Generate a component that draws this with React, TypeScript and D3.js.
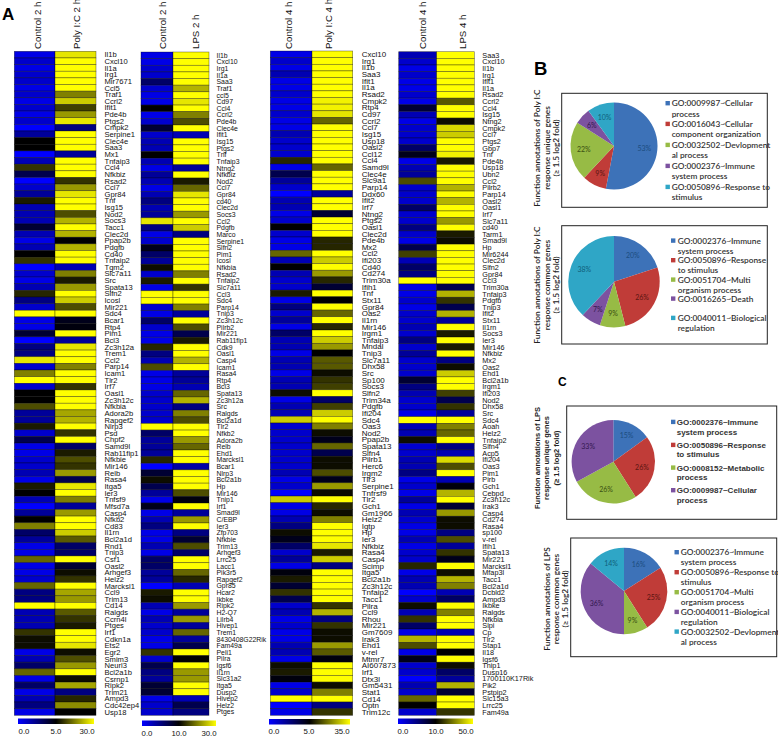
import React from "react";
import * as d3 from "d3";

const genes1 = ["Il1b","Cxcl10","Il1a","Irg1","Mir7671","Ccl5","Traf1","Ccrl2","Ifit1","Pde4b","Ptgs2","Cmpk2","Serpine1","Clec4e","Saa3","Mx1","Tnfaip3","Ccl4","Nfkbiz","Rsad2","Ccl7","Gpr84","Tnf","Isg15","Nod2","Socs3","Tacc1","Clec2d","Ppap2b","Pdgfb","Cd40","Tnfaip2","Tgm2","Slc7a11","Src","Spata13","Slfn2","Icosl","Mir221","Sdc4","Bcar1","Rtp4","Pim1","Bcl3","Zc3h12a","Trem1","Ccl2","Parp14","Icam1","Tlr2","Irf7","Oasl1","Zc3h12c","Nfkbia","Adora2b","Rapgef2","Nlrp3","Psd","Chpf2","Samd9l","Rab11fip1","Nfkbie","Mir146","Relb","Rasa4","Itga5","Ier3","Tnfsf9","Mfsd7a","Casp4","Nfkb2","Cd83","Il1rn","Bcl2a1d","Rnd1","Tnip3","Csf1","Oasl2","Arhgef3","Helz2","Marcksl1","Ccl9","Trim13","Cd14","Ralgds","Ccrn4l","Ptges","Irf1","Cdkn1a","Ets2","Egr2","Smim3","Neurl3","Bcl2a1b","Csrnp1","Ripk2","Trim21","Ampd3","Cdc42ep4","Usp18"];
const control1 = [-9,-8,-9,-8,-8,-9,-8,-9,-8,-9,-8,-10,-6,0,0,-10,-7,2,-3,-10,-8,-6,1,-7,-7,-7,-2,-7,-9,-7,0,2,-10,-8,-9,-7,1.5,-5,-8,10,-9,-9,-2,-10,-5,-5,9,-8,5,10,-8,0,0,3,-6,-6,1,-8,-3,-9,-9,-8,-8,-7,-9,1,0,-7,-10,-6,0,5,-4,-6,-9,-9,4,-9,-9,-8,4,-5,-5,10,-7,-7,-7,2,0.5,0.5,-9,-7,-4,4,-9,-4,-9,-7,-5,-9];
const treated1 = [9,10,10,10,10,10,5,8,2.5,6,9,-5,10,10,10,-6,10,10,10,2,6,9,10,10,3,7,10,7,0,7,10,10,-7,5,1,6,10,8,3,10,-1,-0.5,10,-6,9,10,10,5,10,10,2,10,10,10,6.5,7,10,2,10,-4,1,3,2,6,-3,9,10,5,-6,6,10,10,8,3.5,-4,-4,10,-2,0.5,2,10,6.5,6,10,3.5,2,1,10,10,9,0.5,3,6,10,0.5,6.5,-5,1.5,5.5,0];

const genes2 = ["Il1b","Cxcl10","Irg1","Il1a","Saa3","Traf1","ccl5","Cd97","Ccl4","Ccrl2","Pde4b","Clec4e","Ifit1","Isg15","Ptgs2","Tnf","Tnfaip3","Ntng2","Nfkbiz","Nod2","Ccl7","Gpr84","cd40","Clec2d","Socs3","Ccl2","Pdgfb","Marco","Serpine1","Slfn2","Pim1","Icosl","Nfkbia","Rsad2","Tnfaip2","Slc7a11","Ccl3","Sdc4","Parp14","Tnip3","Zc3h12c","Pilrb2","Mir221","Rab11fip1","Cdk9","Oasl1","Casp4","Icam1","Rasa4","Rtp4","Bcl3","Spata13","Zc3h12a","Src","Ralgds","Bcl2a1d","Tlr2","Nfkb2","Adora2b","Relb","Ehd1","Marcksl1","Bcar1","Nlrp3","Bcl2a1b","Hp","Mir146","Tnip1","Irf1","Smad9l","C/EBP","Ier3","Zfp703","Nfkbie","Trim13","Arhgef3","Lrrc25","Lacc1","Pik3r5","Rapgef2","Gpr85","Hcar2","Ikbke","Ripk2","H2-Q7","Lilrb4","Hivep1","Trem1","8430408G22Rik","Fam49a","Peli1","Pilra","Igsf6","Il1rn","Slc31a2","Itga5","Dusp2","Hivep2","Helz2","Ptges"];
const control2 = [-9,-9,-8,-8,-4,-8,-9,-9,0,-9,-8,-2,-8,-7,-7,0,-7,-9,-6,-7,-9,-7,-5,-7,-6,9,-5,-9,-8,-1,-4,-6,0.5,-8,1,-9,10,10,-8,-9,-4,-8,-9,-9,1.5,-5,-7,3,-9,-9,-9,-8,-8,-8,-8,-8,10,-4,-6,-6,-6,1.5,-10,-2,0.5,-3,-6,-9,-1,-9,-7,-5,-9,-9,-7,-9,-4,-4,-6,-6,-10,1,0.5,-7,-9,-7,-8,-8,-9,-9,2,-8,-3,-5,-6,-2,-2,-9,-8,-8];
const treated2 = [10,10,10,10,10,7,10,9,10,5,3,10,-7,10,10,10,10,-6,10,1,4,9,10,10,6,10,8,-5,10,10,10,10,10,5,10,2,10,10,5,-6,10,3,-3,1,10,10,7,10,-6,-6,-7,4,7,-5,5,3,10,10,6,4,10,10,-6.5,10,10,10,3,-0.5,10,-6,6,10,-5,-2,3,-4,10,10,4,1.5,-7,10,10,6,-6,6,-6,4,-6,-3,10,0,10,6,6,10,10,-7,-3,-5];

const genes3 = ["Cxcl10","Irg1","Il1b","Saa3","Ifit1","Il1a","Rsad2","Cmpk2","Rtp4","Cd97","Ccrl2","Ccl7","Isg15","Usp18","Oasl2","Ccl12","Ccl4","Samd9l","Clec4e","Slc9a1","Parp14","Ddx60","Ifit2","Irf7","Ntng2","Ptgs2","Oasl1","Clec2d","Pde4b","Mx2","Ccl2","Ifi203","Cd40","Cd274","Trim30a","Ifih1","Tnf","Stx11","Gpr84","Oas2","Il1rn","Mir146","Irgm1","Tnfaip3","Mndal","Tnip3","Slc7a11","Dhx58","Src","Sp100","Socs3","Slfn2","Trim34a","Pdgfb","Ifi204","Sdc4","Oas3","Nod2","Ppap2b","Spata13","Slfn4","Pilrb1","Herc6","Irgm2","Tlr3","Serpine1","Tnfrsf9","Tlr2","Gch1","Gm1966","Helz2","Igtp","Hp","Ier3","Nfkbiz","Rasa4","Casp4","Scimp","Itga5","Bcl2a1b","Zc3h12c","Tnfaip2","Tacc1","Pilra","Ccl9","Rhou","Mir221","Gm7609","Irak3","Ehd1","v-rel","Mtmr7","AI607873","Irf1","Dtx3l","Gm5431","Stat1","Cd14","Optn","Trim12c"];
const control3 = [-9,-8,-9,-7,-9,-9,-8,-9,-9,-8,-9,-9,-7,-8,-8,-8,1.5,-9,-3,-6,-8,-10,-7,-7,-9,-8,0,-8,-9,-9,4,-7,0,-7,-8,-8,1,-9,-5,-8,-6,-9,-4,-7,-7,-9,-7,-7,-9,-7,-7,0.5,-9,-7,-7,8,-8,-8,-8,-8,-8,-8,-8,-7,-9,-8,-10,8,-9,-9,-7,-5,0.5,-1,-4,-8,-6,-9,-0.5,1,-2,2,-3,-8,-7,-9,-8,-9,-9,-7,-7,-9,0.5,1,-0.5,-9,-8,10,-10,-9];
const treated3 = [10,10,10,10,10,10,10,9.5,9.5,9,4,10,10,10,10,10,10,4,10,10,10,-6,10,10,-2,10,10,10,1.5,1.5,10,8,10,6,1.5,-2,10,0,10,4,10,1.5,10,8,6,0,3.5,3.5,0.5,2,2.5,10,-4,2.5,8,10,5,0.5,-1,4,-3,0.5,0.5,3,-1,6,0.5,10,1.5,0.5,5,10,10,10,9,1,8,-5,10,10,10,10,10,2,7,-5,2,0.5,0.5,6,3.5,-0.5,10,10,10,0.5,5,10,-5,2];

const genes4 = ["Saa3","Cxcl10","Il1b","Irg1","Ifit1","Il1a","Rsad2","Ccrl2","Ccl4","Isg15","Ntng2","Cmpk2","Ccl7","Ptgs2","Gbp7","Tnf","Pde4b","Usp18","Ubn2","Ccl2","Pilrb2","Parp14","Oasl2","Oasl1","Irf7","Slc7a11","cd40","Tarm1","Smad9l","Hp","Mir6244","Clec2d","Slfn2","Gpr84","Ccl3","Trim30a","Tnfaip3","Pdgfb","Tnip3","Ifit2","Stx11","Il1rn","Socs3","Ier3","Mir146","Nfkbiz","Mx2","Oas2","Ehd1","Bcl2a1b","Irgm1","Ifi203","Nod2","Dhx58","Src","Sdc4","Aoah","Helz2","Tnfaip2","Slfn4","Acp5","Ifi204","Oas3","Pim1","Pirb","Gch1","Cebpd","Zc3h12c","Irak3","Casp4","Cd274","Rasa4","sp100","v-rel","Ifih1","Spata13","Mir221","Marcksl1","Mfap3l","Tacc1","Bcl2a1d","Dcbld2","Ampd3","Ikbke","Ralgds","Nfkbia","Slpi","Cp","Tlr2","Stap1","Il18","Igsf6","Tnip1","Dusp16","1700110K17Rik","Pik2","Pstpip2","Slc15a3","Lrrc25","Fam49a"];
const control4 = [-7,-8,-9,-8,-9,-9,-8,-9,-2,-7,-9,-8,-8,-8,-4,-1,-9,-7,-6,3,-8,-8,-8,-4,-8,-8,-5,-8,-9,-3,2.5,-7,-4,-5,10,-9,-9,-8,-9,-8,-8,-7,-8,-5,-8,-6,-8,-8,-8,-2,-5,-7,-8,-8,-9,10,-7,-7,0.5,-8,-8,-7,-7,-5,-9,-8,-9,-6,-9,-7,-8,-9,-9,-7,-9,-8,-8,1.5,-9,-7,-7,-10,-8,0.5,-7,2,-4,-9,7,3,-9,-1,-8,-8,-10,-7,-8,4,0,-8];
const treated4 = [10,10,10,10,10,10,10,3.5,10,10,0.5,8.5,8,10,10,9.5,1,10,10,10,7,10,7,10,10,6,10,1,0.5,10,10,10,10,10,10,-3,7,2,-3,7,-6,10,1,10,1,10,-5,0.5,8,10,10,2.5,-3,2,-6,10,5,4,10,-5,-7,8.5,3,10,-7,-0.5,7,10,-2,6,0.5,0.5,-5,3,-6,2,-1,10,0.5,7,5,-7,-4,10,5,10,10,-7,10,10,0,10,0.5,-4,-6,7,-2,10,10,2];

const pie1Values = [53, 9, 22, 6, 10];
const pie1Colors = ["blue", "red", "green", "purple", "teal"];
const pie1Legend = [["GO:0009987~Cellular", "process"], ["GO:0016043~Cellular", "component organization"], ["GO:0032502~Devlopment", "al process"], ["GO:0002376~Immune", "system process"], ["GO:0050896~Response to", "stimulus"]];
const pie2Values = [20, 26, 9, 7, 38];
const pie2Colors = ["blue", "red", "green", "purple", "teal"];
const pie2Legend = [["GO:0002376~Immune", "system process"], ["GO:0050896~Response", "to stimulus"], ["GO:0051704~Multi", "organism process"], ["GO:0016265~Death", ""], ["GO:0040011~Biological", "regulation"]];
const pie3Values = [15, 26, 26, 33];
const pie3Colors = ["blue", "red", "green", "purple"];
const pie3Legend = [["GO:0002376~Immune", "system process"], ["GO:0050896~Response", "to stimulus"], ["GO:0008152~Metabolic", "process"], ["GO:0009987~Cellular", "process"]];
const pie4Values = [16, 25, 9, 36, 14];
const pie4Colors = ["blue", "red", "green", "purple", "teal"];
const pie4Legend = [["GO:0002376~Immune", "system process"], ["GO:0050896~Response to", "stimulus"], ["GO:0051704~Multi", "organism process"], ["GO:0040011~Biological", "regulation"], ["GO:0032502~Devlopment", "al process"]];

const heat = d3.scaleLinear<string>().domain([-10, 0, 10]).range(["#0000ff", "#000000", "#ffff00"]);
const PIE_FILL: Record<string, string> = { blue: "#3d72b8", red: "#c03c38", green: "#97bb45", purple: "#7c52a0", teal: "#2fa6c6" };
const PIE_TEXT: Record<string, string> = { blue: "#1c4d80", red: "#5a1512", green: "#3a5012", purple: "#33184f", teal: "#10607a" };
const SANS = "'Liberation Sans', Arial, sans-serif";
const CAL = "Lato, 'Open Sans', sans-serif";

const panels = [
  { genes: genes1, control: control1, treated: treated1, x: [14.3, 55, 96], top: 51.3, bottom: 715.3, labelX: 104.5, font: 7.6, heads: ["Control 2 h", "Poly I:C 2 h"], headX: [37, 76],
    bar: { x0: 18, x1: 94, y: 718.5, labels: ["0.0", "5.0", "30.0"], at: [24, 56, 87] } },
  { genes: genes2, control: control2, treated: treated2, x: [141, 173, 209], top: 52, bottom: 715.3, labelX: 216.5, font: 6.9, heads: ["Control 2 h", "LPS 2 h"], headX: [162, 195],
    bar: { x0: 142, x1: 216, y: 720.5, labels: ["0.0", "10.0", "30.0"], at: [147, 179, 209] } },
  { genes: genes3, control: control3, treated: treated3, x: [270.3, 312, 352.7], top: 51, bottom: 715.3, labelX: 361.7, font: 8, heads: ["Control 4 h", "Poly I:C 4 h"], headX: [288, 328],
    bar: { x0: 269, x1: 350, y: 719, labels: ["0.0", "5.0", "35.0"], at: [274, 309, 342] } },
  { genes: genes4, control: control4, treated: treated4, x: [398.7, 436.7, 474.3], top: 51.7, bottom: 715.3, labelX: 482.3, font: 7.25, heads: ["Control 4 h", "LPS 4 h"], headX: [422, 462],
    bar: { x0: 398, x1: 473, y: 718.5, labels: ["0.0", "10.0", "50.0"], at: [403, 436, 466] } },
];

const pies = [
  { values: pie1Values, colors: pie1Colors, legend: pie1Legend, box: [561.7, 93.3, 767.3, 207.3], c: [614, 146], r: 43.5, legX: 671.7, swX: 665.5, legY: [103.3, 113.7, 124, 134.3, 145, 155.3, 166, 176.3, 187, 197.3], font: 8.3, family: CAL, weight: 600,
    title: ["Function annotations of Poly I:C", "response unique genes", "(≥ 1.5 log2 fold)"], titleX: [537, 547, 556], titleY: 148, titleFont: 8.3 },
  { values: pie2Values, colors: pie2Colors, legend: pie2Legend, box: [561.7, 225.7, 767.3, 344], c: [614, 281.7], r: 45.7, legX: 677.7, swX: 671, legY: [240.7, 251, 260.3, 270.3, 279.7, 289.7, 298.7, 308, 318, 328.3], font: 8.3, family: CAL, weight: 600,
    title: ["Function annotations of Poly I:C", "response common genes", "(≥ 1.5 log2 fold)"], titleX: [537, 547, 556], titleY: 285, titleFont: 8.3 },
  { values: pie3Values, colors: pie3Colors, legend: pie3Legend, box: [566.7, 406, 776.7, 519.3], c: [613.3, 461.7], r: 41.7, legX: 676.7, swX: 671, legY: [422, 431.7, 445, 454.3, 467.7, 477.3, 490.3, 500], font: 8, family: SANS, weight: 700,
    title: ["Function annotations of LPS", "response unique genes", "(≥ 1.5 log2 fold)"], titleX: [537.7, 546.7, 556], titleY: 458, titleFont: 7.5 },
  { values: pie4Values, colors: pie4Colors, legend: pie4Legend, box: [570.7, 538, 776.7, 656.7], c: [624, 591], r: 43.3, legX: 680.7, swX: 674.5, legY: [552.3, 562.3, 572.3, 582.3, 592.3, 602, 612, 622, 631.7, 641.7], font: 8.3, family: CAL, weight: 600,
    title: ["Function annotations of LPS", "response common genes", "(≥ 1.5 log2 fold)"], titleX: [546.7, 556, 565], titleY: 599, titleFont: 8.3 },
];

function Heatmap({ p, idx }: any) {
  const y = d3.scaleBand<number>().domain(d3.range(p.genes.length)).range([p.top, p.bottom]);
  const x = d3.scaleLinear().domain([0, 1, 2]).range(p.x);
  const legend = d3.scaleLinear().domain([0, 1]).range([p.bar.x0, p.bar.x1]);
  return (
    <g>
      {p.genes.map((g: string, i: number) => (
        <g key={g + i}>
          {[p.control[i], p.treated[i]].map((v: number, c: number) => (
            <rect key={c} x={x(c)} y={y(i)} width={x(c + 1) - x(c)} height={y.bandwidth()} fill={heat(v)} stroke="#000" strokeOpacity={0.55} strokeWidth={0.6} />
          ))}
          <text x={p.labelX} y={y(i)! + y.bandwidth() / 2} dy="0.36em" fontSize={p.font} fontFamily={SANS} fill="#111">{g}</text>
        </g>
      ))}
      {p.heads.map((h: string, i: number) => (
        <text key={i} transform={`translate(${p.headX[i]},49) rotate(-90)`} fontSize={9.7} fontFamily={SANS} fill="#111" dy="0.36em">{h}</text>
      ))}
      <defs>
        <linearGradient id={`grad${idx}`}>
          <stop offset="0" stopColor="#0000ff" />
          <stop offset="0.5" stopColor="#000000" />
          <stop offset="1" stopColor="#ffff00" />
        </linearGradient>
      </defs>
      <rect x={legend(0)} y={p.bar.y} width={legend(1) - legend(0)} height={5.5} fill={`url(#grad${idx})`} />
      {p.bar.labels.map((l: string, i: number) => (
        <text key={i} x={p.bar.at[i]} y={p.bar.y + 15} textAnchor="middle" fontSize={7.8} fontFamily={SANS} fill="#111">{l}</text>
      ))}
    </g>
  );
}

function PieBox({ p }: any) {
  const arcs = d3.pie<number>().sort(null)(p.values);
  const arc = d3.arc<any>().innerRadius(0).outerRadius(p.r);
  const lab = d3.arc<any>().innerRadius(p.r * 0.7).outerRadius(p.r * 0.7);
  const [x0, y0, x1, y1] = p.box;
  return (
    <g>
      <rect x={x0} y={y0} width={x1 - x0} height={y1 - y0} fill="#fff" stroke="#222" strokeWidth={1} />
      <g transform={`translate(${p.c[0]},${p.c[1]})`}>
        {arcs.map((a: any, i: number) => (
          <path key={i} d={arc(a)!} fill={PIE_FILL[p.colors[i]]} />
        ))}
        {arcs.map((a: any, i: number) => {
          const [cx, cy] = lab.centroid(a);
          return <text key={i} x={cx} y={cy} dy="0.36em" textAnchor="middle" fontSize={7} fontFamily={CAL} fill={PIE_TEXT[p.colors[i]]}>{p.values[i]}%</text>;
        })}
      </g>
      {p.legend.map((lines: string[], i: number) => (
        <g key={i}>
          <rect x={p.swX} y={p.legY[i * 2] - 2.3} width={4.4} height={4.4} fill={PIE_FILL[p.colors[i]]} />
          {lines.map((t: string, j: number) => (
            <text key={j} x={p.legX} y={p.legY[i * 2 + j]} dy="0.36em" fontSize={p.font} fontFamily={p.family} fontWeight={p.weight} fill="#333">{t}</text>
          ))}
        </g>
      ))}
      {p.title.map((t: string, i: number) => (
        <text key={i} transform={`translate(${p.titleX[i]},${p.titleY}) rotate(-90)`} dy="0.36em" textAnchor="middle" fontSize={p.titleFont} fontFamily={p.family === SANS ? SANS : CAL} fontWeight={600} fill="#222">{t}</text>
      ))}
    </g>
  );
}

export default function App() {
  return (
    <svg width={778} height={736} viewBox="0 0 778 736" style={{ position: "absolute", left: 0, top: 0, background: "#fff" }}>
      {panels.map((p, i) => <Heatmap key={i} p={p} idx={i} />)}
      {pies.map((p, i) => <PieBox key={i} p={p} />)}
      <text x={2} y={20} fontSize={17} fontWeight={700} fontFamily={SANS} fill="#000">A</text>
      <text x={534} y={75} fontSize={18.5} fontWeight={700} fontFamily={SANS} fill="#000">B</text>
      <text x={558} y={386} fontSize={12} fontWeight={700} fontFamily={SANS} fill="#000">C</text>
    </svg>
  );
}
